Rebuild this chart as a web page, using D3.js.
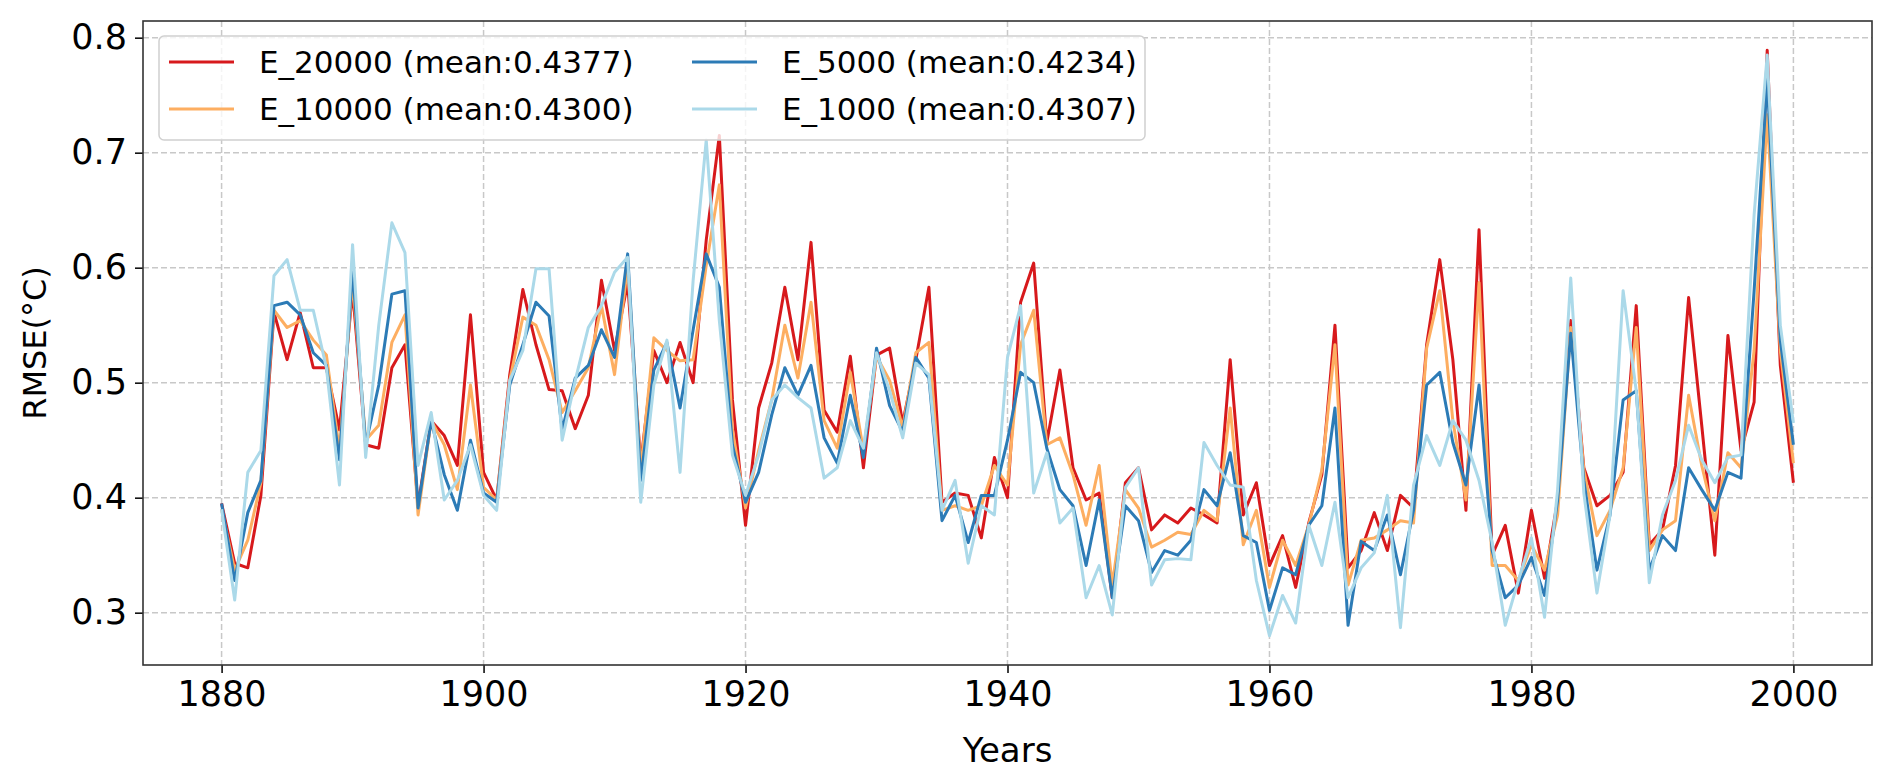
<!DOCTYPE html>
<html>
<head>
<meta charset="utf-8">
<script src="https://cdn.jsdelivr.net/npm/d3@7"></script>
<style>
  body { margin: 0; background: #fff; }
  text { font-family: "DejaVu Sans", sans-serif; fill: #000; }
</style>
</head>
<body>
<svg id="chart" width="1892" height="774"></svg>
<script>
// RMSE per year
var years = d3.range(1880, 2001);

var e20000 = [0.395,0.343,0.339,0.402,0.561,0.520,0.561,0.513,0.513,0.459,0.580,0.446,0.443,0.513,0.533,0.393,0.467,0.454,0.428,0.559,
  0.422,0.398,0.507,0.581,0.533,0.494,0.493,0.460,0.489,0.589,0.528,0.587,0.430,0.528,0.500,0.535,0.500,0.624,0.715,0.485,
  0.376,0.478,0.517,0.583,0.520,0.622,0.476,0.457,0.523,0.426,0.524,0.530,0.465,0.520,0.583,0.396,0.404,0.402,0.365,0.435,
  0.400,0.570,0.604,0.448,0.511,0.426,0.398,0.404,0.313,0.413,0.426,0.372,0.385,0.378,0.391,0.385,0.378,0.520,0.385,0.413,
  0.341,0.367,0.322,0.378,0.420,0.550,0.339,0.354,0.387,0.354,0.402,0.391,0.533,0.607,0.520,0.389,0.633,0.350,0.376,0.317,
  0.389,0.330,0.398,0.554,0.426,0.393,0.402,0.422,0.567,0.359,0.372,0.428,0.574,0.463,0.350,0.541,0.441,0.483,0.789,0.515,0.413];
var e10000 = [0.390,0.337,0.363,0.413,0.563,0.548,0.554,0.537,0.524,0.441,0.589,0.450,0.463,0.535,0.559,0.385,0.467,0.446,0.407,0.498,
  0.409,0.398,0.502,0.557,0.550,0.520,0.474,0.493,0.513,0.567,0.507,0.602,0.424,0.539,0.528,0.519,0.520,0.602,0.672,0.459,
  0.391,0.441,0.485,0.550,0.504,0.570,0.467,0.443,0.509,0.441,0.523,0.502,0.461,0.526,0.535,0.389,0.393,0.389,0.393,0.428,
  0.411,0.533,0.563,0.446,0.452,0.420,0.376,0.428,0.324,0.407,0.391,0.357,0.363,0.370,0.368,0.389,0.380,0.478,0.359,0.389,
  0.322,0.363,0.341,0.376,0.424,0.533,0.324,0.363,0.365,0.372,0.380,0.378,0.530,0.580,0.467,0.398,0.587,0.341,0.341,0.328,
  0.359,0.337,0.385,0.548,0.424,0.367,0.389,0.426,0.548,0.354,0.372,0.380,0.489,0.428,0.380,0.439,0.426,0.528,0.733,0.528,0.430];
var e5000 = [0.395,0.328,0.387,0.415,0.567,0.570,0.559,0.526,0.515,0.433,0.598,0.446,0.498,0.577,0.580,0.391,0.467,0.420,0.389,0.450,
  0.404,0.396,0.498,0.533,0.570,0.558,0.459,0.504,0.515,0.546,0.522,0.612,0.415,0.511,0.535,0.478,0.546,0.612,0.583,0.446,
  0.396,0.422,0.472,0.513,0.489,0.515,0.452,0.430,0.489,0.435,0.530,0.480,0.457,0.522,0.504,0.380,0.402,0.361,0.402,0.402,
  0.450,0.509,0.500,0.443,0.407,0.393,0.341,0.398,0.313,0.393,0.380,0.335,0.354,0.350,0.363,0.407,0.393,0.439,0.367,0.361,
  0.302,0.339,0.333,0.376,0.393,0.478,0.289,0.362,0.354,0.385,0.333,0.389,0.498,0.509,0.448,0.411,0.498,0.354,0.313,0.324,
  0.348,0.315,0.398,0.543,0.415,0.337,0.385,0.485,0.493,0.337,0.367,0.354,0.426,0.407,0.389,0.422,0.417,0.580,0.763,0.537,0.446];
var e1000 = [0.390,0.311,0.422,0.441,0.593,0.607,0.563,0.563,0.513,0.411,0.620,0.435,0.550,0.639,0.613,0.428,0.474,0.398,0.415,0.446,
  0.402,0.389,0.502,0.528,0.599,0.599,0.450,0.502,0.548,0.567,0.596,0.609,0.396,0.498,0.537,0.422,0.589,0.711,0.554,0.437,
  0.402,0.437,0.485,0.498,0.487,0.478,0.417,0.426,0.467,0.443,0.526,0.493,0.452,0.517,0.507,0.389,0.415,0.343,0.393,0.385,
  0.522,0.567,0.404,0.439,0.378,0.391,0.313,0.341,0.298,0.409,0.426,0.324,0.346,0.347,0.346,0.448,0.428,0.411,0.409,0.328,
  0.280,0.315,0.291,0.376,0.341,0.396,0.313,0.339,0.352,0.402,0.287,0.411,0.454,0.428,0.467,0.450,0.415,0.361,0.289,0.328,
  0.365,0.296,0.407,0.591,0.404,0.317,0.385,0.580,0.493,0.326,0.385,0.415,0.463,0.433,0.413,0.435,0.437,0.646,0.785,0.550,0.465];

var seriesNames = ["E_20000", "E_10000", "E_5000", "E_1000"];
var seriesMeans = ["0.4377", "0.4300", "0.4234", "0.4307"];
var seriesColors = ["#d7191c", "#fdae61", "#2c7bb6", "#abd9e9"];
var yTicks = [0.3, 0.4, 0.5, 0.6, 0.7, 0.8];
var xTicks = [1880, 1900, 1920, 1940, 1960, 1980, 2000];

var allSeries = [e20000, e10000, e5000, e1000];

var svg = d3.select("#chart");
var plotL = 143, plotR = 1872, plotT = 21, plotB = 665;

var x = d3.scaleLinear().domain([1874, 2006]).range([plotL, plotR]);
var y = d3.scaleLinear().domain([0.2545, 0.8145]).range([plotB, plotT]);

// grid
svg.append("g").selectAll("line").data(xTicks).enter().append("line")
    .attr("x1", function(d) { return x(d); }).attr("x2", function(d) { return x(d); })
    .attr("y1", plotT).attr("y2", plotB)
    .attr("stroke", "#c8c8c8").attr("stroke-width", 1.5).attr("stroke-dasharray", "6,3");
svg.append("g").selectAll("line").data(yTicks).enter().append("line")
    .attr("x1", plotL).attr("x2", plotR)
    .attr("y1", function(d) { return y(d); }).attr("y2", function(d) { return y(d); })
    .attr("stroke", "#c8c8c8").attr("stroke-width", 1.5).attr("stroke-dasharray", "6,3");

// axes
var xAxis = svg.append("g").attr("transform", "translate(0," + plotB + ")")
    .call(d3.axisBottom(x).tickValues(xTicks).tickFormat(d3.format("d")).tickSize(8).tickPadding(8));
var yAxis = svg.append("g").attr("transform", "translate(" + plotL + ",0)")
    .call(d3.axisLeft(y).tickValues(yTicks).tickFormat(d3.format(".1f")).tickSize(8).tickPadding(8));
[xAxis, yAxis].forEach(function(a) {
    a.select(".domain").remove();
    a.selectAll("line").attr("stroke-width", 1.5);
    a.selectAll("text").style("font-size", "35px").style("font-family", "DejaVu Sans");
});

// lines
var line = d3.line()
    .x(function(d, i) { return x(years[i]); })
    .y(function(d) { return y(d); });

allSeries.forEach(function(s, k) {
    svg.append("path").datum(s)
        .attr("d", line)
        .attr("fill", "none")
        .attr("stroke", seriesColors[k])
        .attr("stroke-width", 3)
        .attr("stroke-linejoin", "round");
});

// frame
svg.append("rect").attr("x", plotL).attr("y", plotT)
    .attr("width", plotR - plotL).attr("height", plotB - plotT)
    .attr("fill", "none").attr("stroke", "#333").attr("stroke-width", 1.6);

// labels
svg.append("text").attr("x", (plotL + plotR) / 2).attr("y", 762)
    .attr("text-anchor", "middle").style("font-size", "34px").text("Years");
svg.append("text").attr("transform", "translate(46," + (plotT + plotB) / 2 + ") rotate(-90)")
    .attr("text-anchor", "middle").style("font-size", "32px").text("RMSE(°C)");

// legend
var legend = svg.append("g");
legend.append("rect").attr("x", 159).attr("y", 36).attr("width", 986).attr("height", 104)
    .attr("rx", 5).attr("fill", "#fff").attr("fill-opacity", 0.8)
    .attr("stroke", "#d0d0d0").attr("stroke-width", 1.5);
var legendPos = [[169, 62], [169, 109], [692, 62], [692, 109]];
seriesNames.forEach(function(n, k) {
    var p = legendPos[k];
    legend.append("line").attr("x1", p[0]).attr("x2", p[0] + 65)
        .attr("y1", p[1]).attr("y2", p[1])
        .attr("stroke", seriesColors[k]).attr("stroke-width", 3);
    legend.append("text").attr("x", p[0] + 90).attr("y", p[1])
        .attr("dy", "0.35em").style("font-size", "31px")
        .text(n + " (mean:" + seriesMeans[k] + ")");
});
</script>
</body>
</html>
